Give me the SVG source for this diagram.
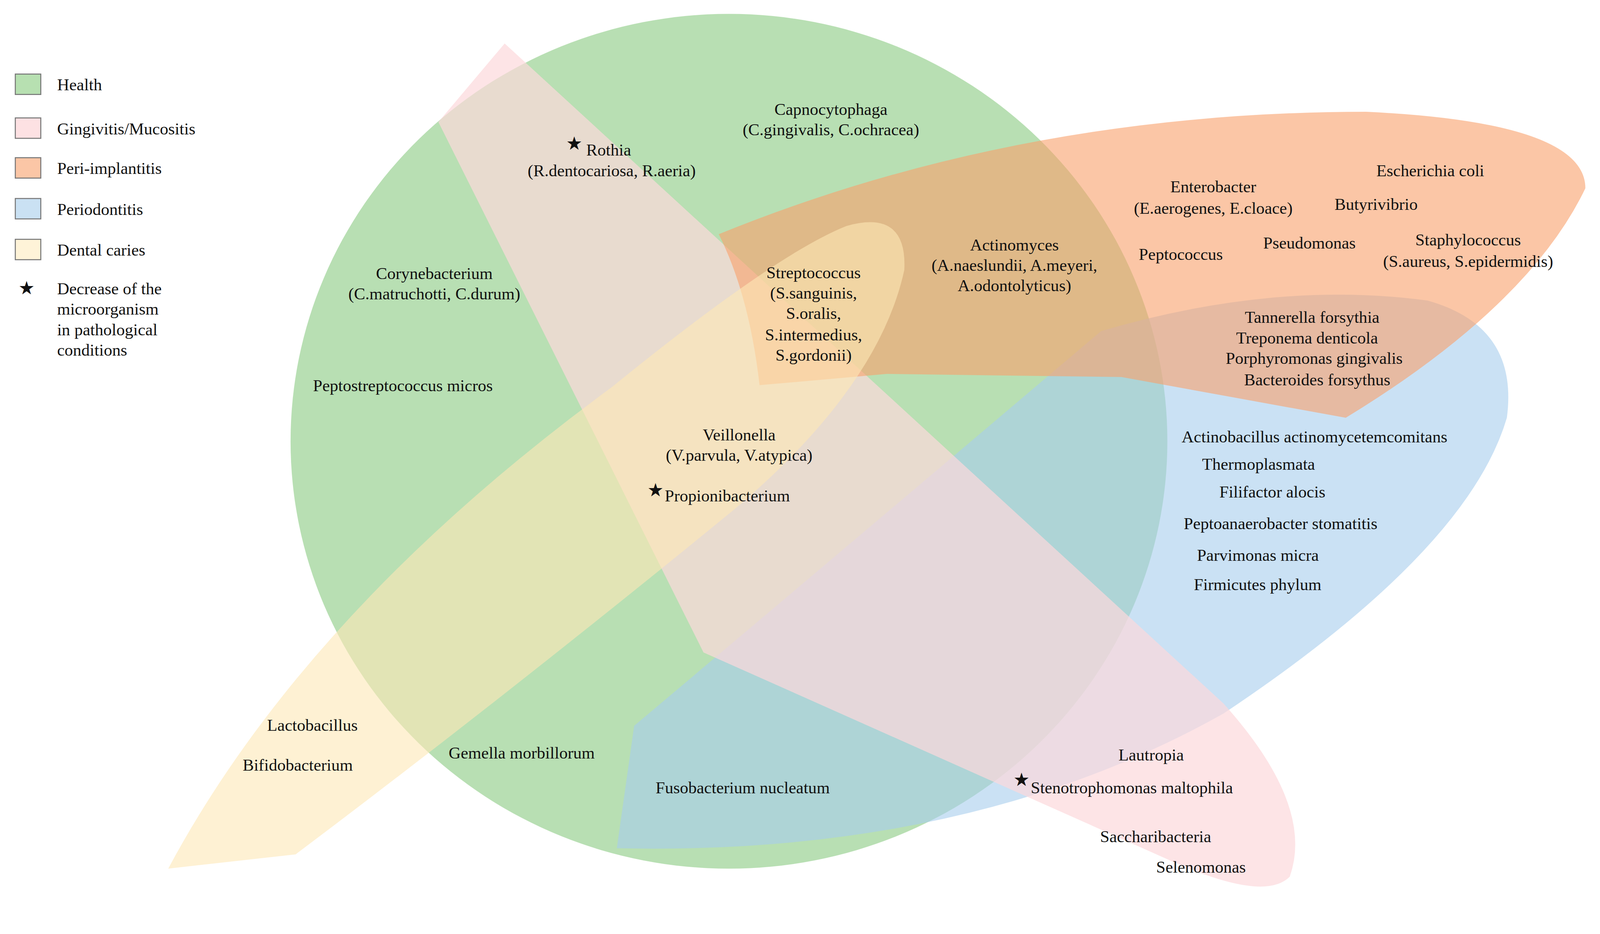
<svg xmlns="http://www.w3.org/2000/svg" width="4222" height="2390" viewBox="0 0 4222 2390">
<style>
text{font-family:"Liberation Serif","DejaVu Serif",serif;font-size:16.5px;fill:#111}
.c{text-anchor:middle}
.lg{stroke:#777;stroke-width:1}
</style>
<rect width="4222" height="2390" fill="#fff"/>
<g transform="translate(0,-1) scale(2.61)">
<g id="health"><ellipse cx="715" cy="433" rx="430" ry="419" fill="#8ccc85" opacity="0.62"/></g>
<g id="periodontitis"><path d="M622,712 Q850,520 1080,325 Q1250,275 1400,295 Q1490,320 1478,410 Q1440,540 1200,700 Q950,840 605,832 Z" fill="#a6cdec" opacity="0.6"/></g>
<g id="gingivitis"><path d="M495,43 L1200,690 Q1290,790 1265,860 Q1240,885 1150,845 L690,640 Q560,380 430,120 Z" fill="#fcd9dc" opacity="0.7"/></g>
<g id="periimplantitis"><path d="M705,230 Q1000,110 1340,110 Q1555,120 1555,185 Q1500,300 1320,410 L1100,370 L870,367 L745,378 Q735,290 705,230 Z" fill="#f9a06a" opacity="0.6"/></g>
<g id="caries"><path d="M165,852 Q300,600 600,380 Q760,250 830,222 Q890,205 887,265 Q862,380 720,500 Q500,680 290,838 Z" fill="#fde8b6" opacity="0.6"/></g>

<g id="legend">
<rect class="lg" x="15" y="73" width="25" height="20" fill="#b7e0b1"/><text x="56" y="89">Health</text>
<rect class="lg" x="15" y="116" width="25" height="20" fill="#fde1e3"/><text x="56" y="132">Gingivitis/Mucositis</text>
<rect class="lg" x="15" y="155" width="25" height="20" fill="#fbc6a6"/><text x="56" y="171">Peri-implantitis</text>
<rect class="lg" x="15" y="195" width="25" height="20" fill="#cae1f3"/><text x="56" y="211">Periodontitis</text>
<rect class="lg" x="15" y="235" width="25" height="20" fill="#fef3d8"/><text x="56" y="251">Dental caries</text>
<text x="18" y="289" style="font-size:18px">★</text>
<text x="56" y="289">Decrease of the</text><text x="56" y="309">microorganism</text><text x="56" y="329">in  pathological</text><text x="56" y="349">conditions</text>
</g>

<g id="labels">
<text class="c" x="815" y="113">Capnocytophaga</text><text class="c" x="815" y="133">(C.gingivalis, C.ochracea)</text>
<text x="555" y="147" style="font-size:18px">★</text><text x="575" y="153">Rothia</text>
<text class="c" x="600" y="173">(R.dentocariosa, R.aeria)</text>
<text class="c" x="426" y="274">Corynebacterium</text><text class="c" x="426" y="294">(C.matruchotti, C.durum)</text>
<text x="307" y="384">Peptostreptococcus micros</text>
<text class="c" x="798" y="273">Streptococcus</text><text class="c" x="798" y="293">(S.sanguinis,</text><text class="c" x="798" y="313">S.oralis,</text><text class="c" x="798" y="334">S.intermedius,</text><text class="c" x="798" y="354">S.gordonii)</text>
<text class="c" x="995" y="246">Actinomyces</text><text class="c" x="995" y="266">(A.naeslundii, A.meyeri,</text><text class="c" x="995" y="286">A.odontolyticus)</text>
<text class="c" x="1190" y="189">Enterobacter</text><text class="c" x="1190" y="210">(E.aerogenes, E.cloace)</text>
<text x="1350" y="173">Escherichia coli</text>
<text x="1309" y="206">Butyrivibrio</text>
<text x="1117" y="255">Peptococcus</text>
<text x="1239" y="244">Pseudomonas</text>
<text class="c" x="1440" y="241">Staphylococcus</text><text class="c" x="1440" y="262">(S.aureus, S.epidermidis)</text>
<text class="c" x="1287" y="317">Tannerella forsythia</text><text class="c" x="1282" y="337">Treponema denticola</text><text class="c" x="1289" y="357">Porphyromonas gingivalis</text><text class="c" x="1292" y="378">Bacteroides forsythus</text>
<text x="1159" y="434">Actinobacillus actinomycetemcomitans</text>
<text x="1179" y="461">Thermoplasmata</text>
<text x="1196" y="488">Filifactor alocis</text>
<text x="1161" y="519">Peptoanaerobacter stomatitis</text>
<text x="1174" y="550">Parvimonas micra</text>
<text x="1171" y="579">Firmicutes phylum</text>
<text class="c" x="725" y="432">Veillonella</text><text class="c" x="725" y="452">(V.parvula, V.atypica)</text>
<text x="635" y="487" style="font-size:18px">★</text><text x="652" y="492">Propionibacterium</text>
<text x="262" y="717">Lactobacillus</text>
<text x="238" y="756">Bifidobacterium</text>
<text x="440" y="744">Gemella morbillorum</text>
<text x="643" y="778">Fusobacterium nucleatum</text>
<text x="1097" y="746">Lautropia</text>
<text x="994" y="771" style="font-size:18px">★</text><text x="1011" y="778">Stenotrophomonas maltophila</text>
<text x="1079" y="826">Saccharibacteria</text>
<text x="1134" y="856">Selenomonas</text>
</g>
<g id="connectors"/>
</g>
</svg>
